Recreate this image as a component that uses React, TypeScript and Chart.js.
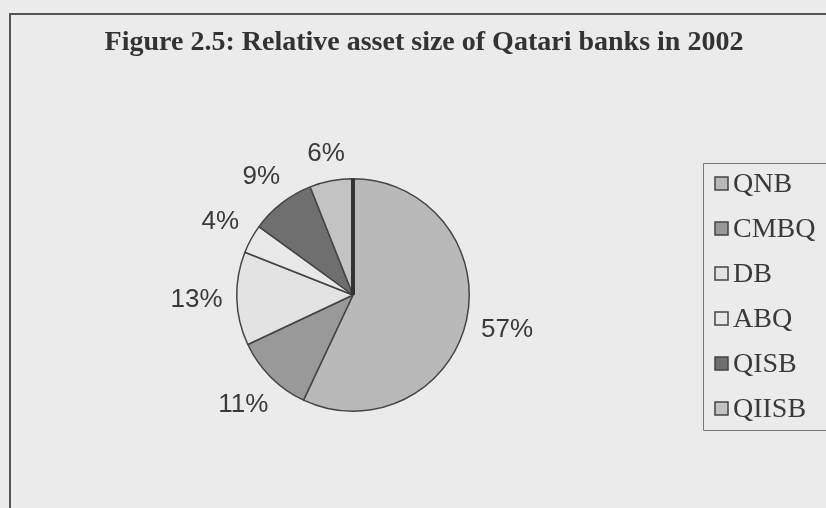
import React, { useEffect, useRef } from "react";
import { Chart, registerables } from "chart.js";

Chart.register(...registerables);

const titleText = "Figure 2.5: Relative asset size of Qatari banks in 2002";
const banks = ["QNB", "CMBQ", "DB", "ABQ", "QISB", "QIISB"];
const shares = [57, 11, 13, 4, 9, 6];
const sliceColors = ["#b9b9b9", "#999999", "#e3e3e3", "#e8e8e8", "#6f6f6f", "#c3c3c3"];

const frame = {
  id: "frame",
  beforeDraw(chart: any) {
    const ctx = chart.ctx;
    const W = chart.width, H = chart.height;
    ctx.save();
    ctx.fillStyle = "#ebebeb";
    ctx.fillRect(0, 0, W, H);
    // outer box
    ctx.strokeStyle = "#555";
    ctx.lineWidth = 2;
    ctx.beginPath();
    ctx.moveTo(W + 5, 14);
    ctx.lineTo(10, 14);
    ctx.lineTo(10, H + 5);
    ctx.stroke();
    // title
    ctx.fillStyle = "#333";
    ctx.font = "bold 28px 'Liberation Serif'";
    ctx.textAlign = "center";
    ctx.textBaseline = "middle";
    ctx.fillText(titleText, 424, 43);
    // legend box
    ctx.strokeStyle = "#777";
    ctx.lineWidth = 1;
    ctx.beginPath();
    ctx.moveTo(W + 5, 163.5);
    ctx.lineTo(703.5, 163.5);
    ctx.lineTo(703.5, 430.5);
    ctx.lineTo(W + 5, 430.5);
    ctx.stroke();
    // legend items
    ctx.font = "28px 'Liberation Serif'";
    ctx.textAlign = "left";
    banks.forEach((b, i) => {
      const y = 184 + i * 45;
      ctx.fillStyle = sliceColors[i];
      ctx.fillRect(715, y - 7, 13, 13);
      ctx.strokeStyle = "#444";
      ctx.lineWidth = 1.5;
      ctx.strokeRect(715, y - 7, 13, 13);
      ctx.fillStyle = "#3a3a3a";
      ctx.fillText(b, 733, y + 1);
    });
    ctx.restore();
  },
  afterDatasetsDraw(chart: any) {
    const ctx = chart.ctx;
    const meta = chart.getDatasetMeta(0);
    ctx.save();
    ctx.font = "26px 'Liberation Sans'";
    ctx.fillStyle = "#3a3a3a";
    ctx.textAlign = "center";
    ctx.textBaseline = "middle";
    meta.data.forEach((arc: any, i: number) => {
      const { x, y, startAngle, endAngle, outerRadius } = arc.getProps(
        ["x", "y", "startAngle", "endAngle", "outerRadius"], true);
      const mid = (startAngle + endAngle) / 2;
      const txt = shares[i] + "%";
      const w = ctx.measureText(txt).width;
      const c = Math.cos(mid), s = Math.sin(mid);
      const r = outerRadius + 14 + Math.abs(c) * w / 2 + Math.abs(s) * 10;
      ctx.fillText(txt, x + r * c, y + r * s);
    });
    // dark separator at start
    const a0: any = meta.data[0];
    ctx.strokeStyle = "#333";
    ctx.lineWidth = 4;
    ctx.beginPath();
    ctx.moveTo(a0.x, a0.y);
    ctx.lineTo(a0.x + a0.outerRadius * Math.cos(a0.startAngle), a0.y + a0.outerRadius * Math.sin(a0.startAngle));
    ctx.stroke();
    ctx.restore();
  },
};

export default function App() {
  const ref = useRef<HTMLCanvasElement>(null);
  useEffect(() => {
    const chart = new Chart(ref.current as HTMLCanvasElement, {
      type: "pie",
      data: {
        labels: banks,
        datasets: [
          {
            data: shares,
            backgroundColor: sliceColors,
            borderColor: "#444",
            borderWidth: 1.5,
          },
        ],
      },
      options: {
        responsive: false,
        animation: false,
        layout: { padding: { left: 236, right: 356, top: 178, bottom: 96 } },
        plugins: {
          legend: { display: false },
          title: { display: false },
          tooltip: { enabled: false },
        },
      },
      plugins: [frame],
    });
    return () => chart.destroy();
  }, []);
  return (
    <div style={{ position: "absolute", left: 0, top: 0, width: 826, height: 508 }}>
      <canvas ref={ref} width={826} height={508} />
    </div>
  );
}
